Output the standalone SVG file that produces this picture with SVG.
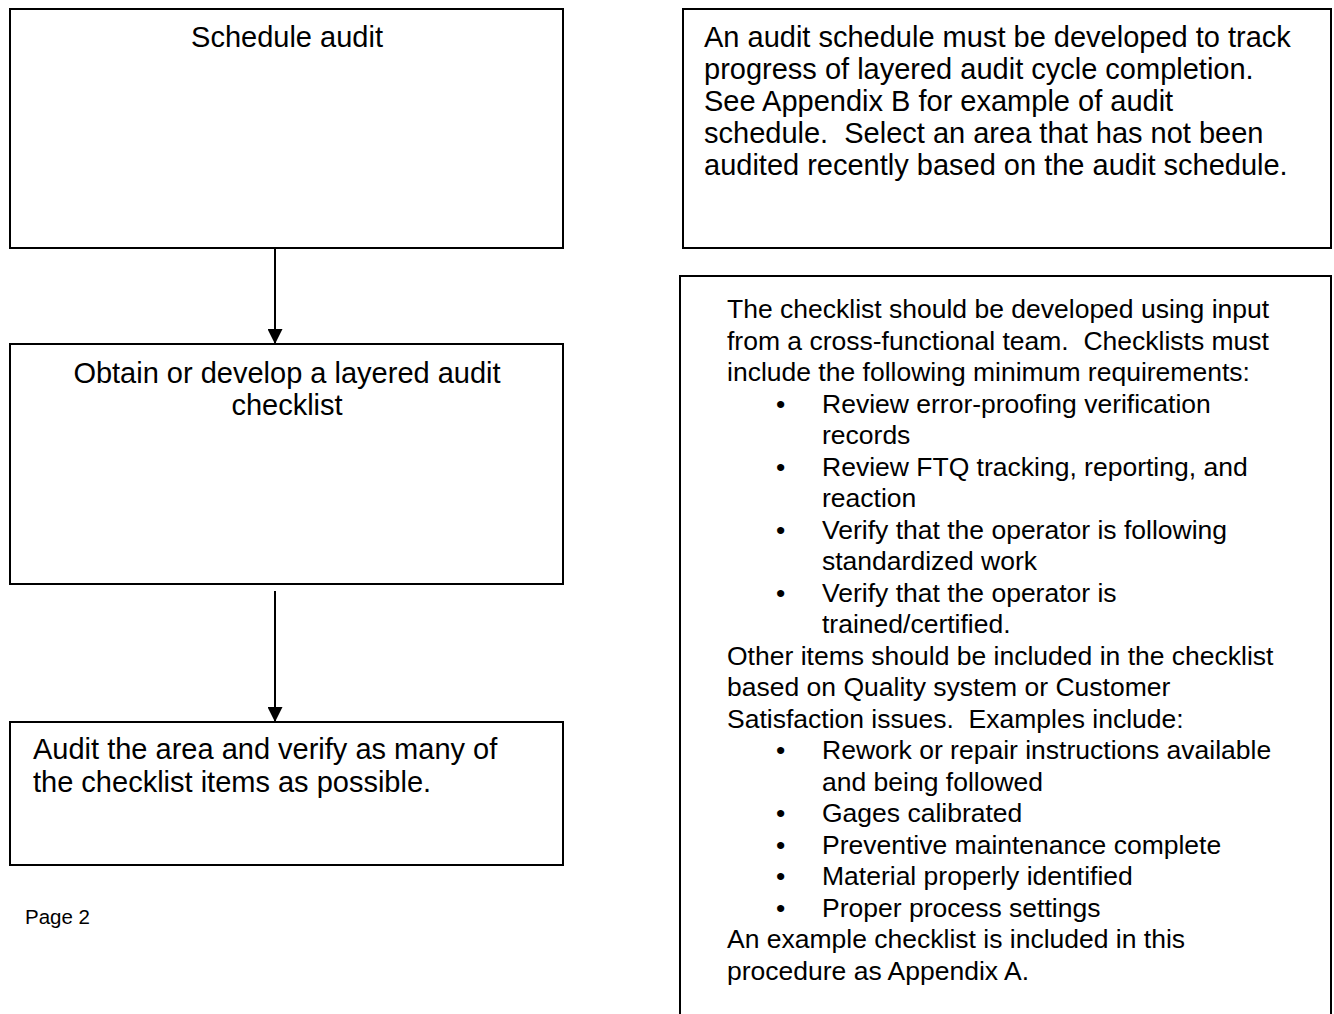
<svg xmlns="http://www.w3.org/2000/svg" width="1334" height="1014" viewBox="0 0 1334 1014">
<defs>
<style>
.box{fill:#fff;stroke:#000;stroke-width:2}
.t{font-family:"Liberation Sans",Arial,sans-serif;font-size:29px;fill:#000}
.s{font-family:"Liberation Sans",Arial,sans-serif;font-size:26.5px;fill:#000}
.c{text-anchor:middle}
.conn{stroke:#000;stroke-width:2;fill:none;marker-end:url(#ah)}
</style>
<marker id="ah" viewBox="0 0 15 15" refX="15" refY="7.5" markerWidth="15" markerHeight="15" markerUnits="userSpaceOnUse" orient="auto">
<path d="M0,0 L15,7.5 L0,15 Z" fill="#000"/>
</marker>
</defs>
<rect width="1334" height="1014" fill="#fff"/>
<g id="connectors">
<line class="conn" x1="275" y1="249" x2="275" y2="344"/>
<line class="conn" x1="275" y1="591" x2="275" y2="722"/>
</g>
<g id="schedule-audit">
<rect class="box" x="10" y="9" width="553" height="239"/>
<text class="t c" x="287" y="47">Schedule audit</text>
</g>
<g id="obtain-checklist">
<rect class="box" x="10" y="344" width="553" height="240"/>
<text class="t c" x="287" y="383">Obtain or develop a layered audit</text>
<text class="t c" x="287" y="415">checklist</text>
</g>
<g id="audit-area">
<rect class="box" x="10" y="722" width="553" height="143"/>
<text class="t" x="33" y="759">Audit the area and verify as many of</text>
<text class="t" x="33" y="792">the checklist items as possible.</text>
</g>
<text x="25" y="924" font-family="Liberation Sans, Arial, sans-serif" font-size="20.5">Page 2</text>
<g id="schedule-note">
<rect class="box" x="683" y="9" width="648" height="239"/>
<text class="t" x="704" y="47">An audit schedule must be developed to track</text>
<text class="t" x="704" y="79">progress of layered audit cycle completion.</text>
<text class="t" x="704" y="111">See Appendix B for example of audit</text>
<text class="t" x="704" y="143">schedule.&#160; Select an area that has not been</text>
<text class="t" x="704" y="175">audited recently based on the audit schedule.</text>
</g>
<g id="checklist-note">
<path class="box" d="M680,1020 L680,276 L1331,276 L1331,1020"/>
<g class="s">
<text x="727" y="318">The checklist should be developed using input</text>
<text x="727" y="350">from a cross-functional team.&#160; Checklists must</text>
<text x="727" y="381">include the following minimum requirements:</text>
<text x="776" y="413">•</text><text x="822" y="413">Review error-proofing verification</text>
<text x="822" y="444">records</text>
<text x="776" y="476">•</text><text x="822" y="476">Review FTQ tracking, reporting, and</text>
<text x="822" y="507">reaction</text>
<text x="776" y="539">•</text><text x="822" y="539">Verify that the operator is following</text>
<text x="822" y="570">standardized work</text>
<text x="776" y="602">•</text><text x="822" y="602">Verify that the operator is</text>
<text x="822" y="633">trained/certified.</text>
<text x="727" y="665">Other items should be included in the checklist</text>
<text x="727" y="696">based on Quality system or Customer</text>
<text x="727" y="728">Satisfaction issues.&#160; Examples include:</text>
<text x="776" y="759">•</text><text x="822" y="759">Rework or repair instructions available</text>
<text x="822" y="791">and being followed</text>
<text x="776" y="822">•</text><text x="822" y="822">Gages calibrated</text>
<text x="776" y="854">•</text><text x="822" y="854">Preventive maintenance complete</text>
<text x="776" y="885">•</text><text x="822" y="885">Material properly identified</text>
<text x="776" y="917">•</text><text x="822" y="917">Proper process settings</text>
<text x="727" y="948">An example checklist is included in this</text>
<text x="727" y="980">procedure as Appendix A.</text>
</g>
</g>
</svg>
